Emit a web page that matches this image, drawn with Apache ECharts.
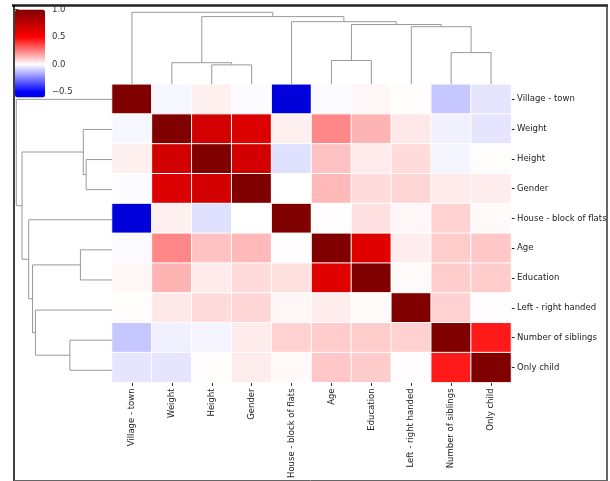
<!DOCTYPE html>
<html>
<head>
<meta charset="utf-8">
<script src="https://cdn.jsdelivr.net/npm/echarts@6/dist/echarts.min.js"></script>
<style>
html,body{margin:0;padding:0;background:#fff;}
#chart{width:610px;height:481px;}
</style>
</head>
<body>
<div id="chart"></div>
<script>
// ---- data ----
const labels = ['Village - town','Weight','Height','Gender','House - block of flats','Age','Education','Left - right handed','Number of siblings','Only child'];
const corrMatrix = [
  [ 1.000,-0.015, 0.030,-0.005,-0.600,-0.010, 0.015, 0.005,-0.110,-0.050],
  [-0.015, 1.000, 0.677, 0.638, 0.030, 0.235, 0.147, 0.045,-0.030,-0.050],
  [ 0.030, 0.677, 1.000, 0.677,-0.060, 0.120, 0.040, 0.070,-0.020, 0.005],
  [-0.005, 0.638, 0.677, 1.000, 0.000, 0.137, 0.070, 0.080, 0.040, 0.035],
  [-0.600, 0.030,-0.060, 0.000, 1.000, 0.003, 0.060, 0.015, 0.090, 0.012],
  [-0.010, 0.235, 0.120, 0.137, 0.003, 1.000, 0.618, 0.035, 0.100, 0.110],
  [ 0.015, 0.147, 0.040, 0.070, 0.060, 0.618, 1.000, 0.010, 0.100, 0.100],
  [ 0.005, 0.045, 0.070, 0.080, 0.015, 0.035, 0.010, 1.000, 0.090, 0.003],
  [-0.110,-0.030,-0.020, 0.040, 0.090, 0.100, 0.100, 0.090, 1.000, 0.450],
  [-0.050,-0.050, 0.005, 0.035, 0.012, 0.110, 0.100, 0.003, 0.450, 1.000]
];
// dendrogram linkage (leaf nodes 0..9 in display order, merge k -> node 10+k)
const linkLeft   = [2, 1, 5, 8, 7, 12, 4, 11, 0];
const linkRight  = [3, 10, 6, 9, 13, 14, 15, 16, 17];
const linkHeight = [0.27, 0.30, 0.33, 0.44, 0.80, 0.83, 0.87, 0.94, 1.00];
// colorbar
const cbMin = -0.6, cbMax = 1.0;
const cbTicks = [-0.5, 0, 0.5, 1.0];

// seismic colormap (for the color scale stops)
function seismic(v){
  const t=(v+1)/2;
  const st=[[0,[0,0,0.3]],[0.25,[0,0,1]],[0.5,[1,1,1]],[0.75,[1,0,0]],[1,[0.5,0,0]]];
  for(let i=0;i<st.length-1;i++){
    const [t0,c0]=st[i],[t1,c1]=st[i+1];
    if(t>=t0&&t<=t1){
      const f=(t-t0)/(t1-t0);
      const c=c0.map((a,j)=>Math.round(255*(a+(c1[j]-a)*f)));
      return 'rgb('+c.join(',')+')';
    }
  }
  return '#800000';
}
const stops=[];
for(let k=0;k<=16;k++){ stops.push(seismic(cbMin+(cbMax-cbMin)*k/16)); }

const heatData=[];
for(let r=0;r<labels.length;r++) for(let c=0;c<labels.length;c++) heatData.push([c,r,corrMatrix[r][c]]);

// dendrogram U-shapes
const pos=[],hgt=[];
for(let i=0;i<labels.length;i++){pos.push(i+0.5);hgt.push(0);}
const uShapes=[];
for(let k=0;k<linkLeft.length;k++){
  const a=linkLeft[k],b=linkRight[k],h=linkHeight[k];
  uShapes.push([[pos[a],hgt[a]],[pos[a],h],[pos[b],h],[pos[b],hgt[b]]]);
  pos.push((pos[a]+pos[b])/2); hgt.push(h);
}
const dendroColor='#999999';
const series=[{
  type:'heatmap', xAxisIndex:0, yAxisIndex:0, data:heatData,
  itemStyle:{borderColor:'#ffffff',borderWidth:1},
  emphasis:{disabled:true}, label:{show:false}
}];
uShapes.forEach(u=>{
  series.push({type:'line',xAxisIndex:1,yAxisIndex:1,data:u,symbol:'none',silent:true,
    lineStyle:{color:dendroColor,width:1}});
  series.push({type:'line',xAxisIndex:2,yAxisIndex:2,data:u.map(p=>[p[1],p[0]]),symbol:'none',silent:true,
    lineStyle:{color:dendroColor,width:1}});
});

const FONT='DejaVu Sans';
const hmLeft=112, hmTop=84.3, hmW=399, hmH=301;
const option={
  animation:false,
  grid:[
    {left:hmLeft,top:hmTop,width:hmW,height:hmH},
    {left:hmLeft,top:hmTop-75.6,width:hmW,height:75.6},
    {left:hmLeft-100.5,top:hmTop,width:100.5,height:hmH},
    {left:15,top:9.5,width:30,height:88}
  ],
  xAxis:[
    {type:'category',gridIndex:0,data:labels,position:'bottom',
     axisLine:{show:false},
     axisTick:{show:true,length:3.5,alignWithLabel:true,interval:0,lineStyle:{color:'#222'}},
     axisLabel:{rotate:90,interval:0,margin:6,fontSize:8.5,fontFamily:FONT,color:'#222'},
     splitLine:{show:false}},
    {type:'value',gridIndex:1,min:0,max:10,show:false},
    {type:'value',gridIndex:2,min:0,max:1.05,inverse:true,show:false},
    {type:'value',gridIndex:3,min:0,max:1,show:false}
  ],
  yAxis:[
    {type:'category',gridIndex:0,data:labels,inverse:true,position:'right',
     axisLine:{show:false},
     axisTick:{show:true,length:3.5,alignWithLabel:true,interval:0,lineStyle:{color:'#222'}},
     axisLabel:{interval:0,margin:6,fontSize:8.5,fontFamily:FONT,color:'#222'},
     splitLine:{show:false}},
    {type:'value',gridIndex:1,min:0,max:1.05,show:false},
    {type:'value',gridIndex:2,min:0,max:10,inverse:true,show:false},
    {type:'value',gridIndex:3,min:cbMin,max:cbMax,position:'right',
     axisLine:{show:false},splitLine:{show:false},
     axisTick:{show:true,length:3.5,customValues:cbTicks,lineStyle:{color:'#333'}},
     axisLabel:{show:true,customValues:cbTicks,margin:7,fontSize:8.5,fontFamily:FONT,color:'#333',
       formatter:v=>(v<0?'\u2212':'')+Math.abs(v).toFixed(1)}}
  ],
  visualMap:{type:'continuous',seriesIndex:0,min:cbMin,max:cbMax,left:15,top:9.5,
    itemWidth:30,itemHeight:88,padding:0,calculable:false,hoverLink:false,text:null,
    showLabel:false,inRange:{color:stops}},
  graphic:[
    {type:'line',shape:{x1:12,y1:5.5,x2:608,y2:5.5},style:{stroke:'#222',lineWidth:2.5},z:100},
    {type:'line',shape:{x1:14,y1:5,x2:14,y2:481},style:{stroke:'#000',lineWidth:1.5},z:100},
    {type:'line',shape:{x1:607,y1:5,x2:607,y2:481},style:{stroke:'#333',lineWidth:1.5},z:100},
    {type:'line',shape:{x1:14,y1:480.5,x2:607,y2:480.5},style:{stroke:'#666',lineWidth:1},z:100}
  ],
  series:series
};
const chart=echarts.init(document.getElementById('chart'),null,{renderer:'canvas'});
chart.setOption(option);
</script>
</body>
</html>
